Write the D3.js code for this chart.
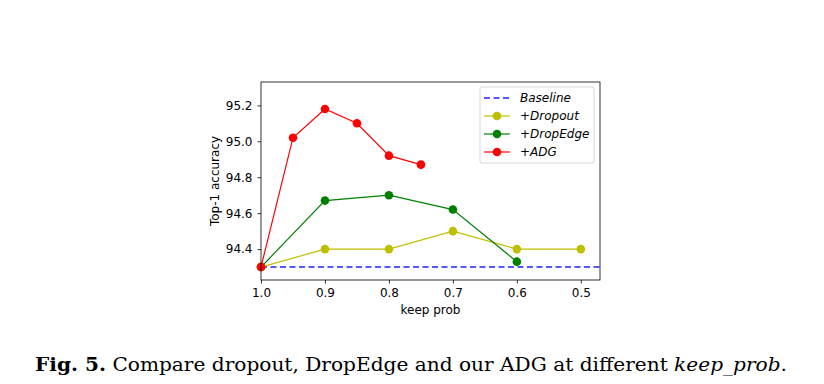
<!DOCTYPE html>
<html><head><meta charset="utf-8">
<script src="https://cdn.jsdelivr.net/npm/d3@7"></script>
<style>body{margin:0;background:#fff}svg{display:block}</style>
</head><body>
<svg id="c" width="824" height="384"></svg>
<script>
const xTicks = [1.0, 0.9, 0.8, 0.7, 0.6, 0.5];
const yTicks = [94.4, 94.6, 94.8, 95.0, 95.2];
const baselineValue = 94.3;
const dropoutX = [1.0, 0.9, 0.8, 0.7, 0.6, 0.5];
const dropoutY = [94.3, 94.4, 94.4, 94.5, 94.4, 94.4];
const dropEdgeX = [1.0, 0.9, 0.8, 0.7, 0.6];
const dropEdgeY = [94.3, 94.67, 94.70, 94.62, 94.33];
const adgX = [1.0, 0.95, 0.9, 0.85, 0.8, 0.75];
const adgY = [94.3, 95.02, 95.18, 95.10, 94.92, 94.87];
const legendLabels = ["Baseline", "+Dropout", "+DropEdge", "+ADG"];

const svg = d3.select("#c");
const L = 261, R = 600, T = 82, B = 280;
const x = d3.scaleLinear().domain([1.0, 0.47]).range([L, R]);
const y = d3.scaleLinear().domain([94.228, 95.33]).range([B, T]);
const font = "DejaVu Sans, sans-serif";

// baseline
svg.append("line").attr("x1", x(1.0)).attr("x2", R).attr("y1", y(baselineValue)).attr("y2", y(baselineValue))
  .attr("stroke", "#2222ff").attr("stroke-width", 1.6).attr("stroke-dasharray", "6,3.5");

const series = [
  {xs: dropoutX, ys: dropoutY, c: "#bfbf00"},
  {xs: dropEdgeX, ys: dropEdgeY, c: "#008000"},
  {xs: adgX, ys: adgY, c: "#ff0000"}
];
const line = d3.line().x(d => x(d[0])).y(d => y(d[1]));
series.forEach(s => {
  const pts = s.xs.map((v, i) => [v, s.ys[i]]);
  svg.append("path").attr("d", line(pts)).attr("fill", "none").attr("stroke", s.c).attr("stroke-width", 1.2);
  svg.selectAll(null).data(pts).enter().append("circle")
    .attr("cx", d => x(d[0])).attr("cy", d => y(d[1])).attr("r", 4.3).attr("fill", s.c);
});

// frame
svg.append("rect").attr("x", L).attr("y", T).attr("width", R - L).attr("height", B - T)
  .attr("fill", "none").attr("stroke", "#000").attr("stroke-width", 0.8);

// axes
const xa = svg.append("g").attr("transform", `translate(0,${B})`)
  .call(d3.axisBottom(x).tickValues(xTicks).tickFormat(d3.format(".1f")).tickSize(3.5).tickPadding(5));
const ya = svg.append("g").attr("transform", `translate(${L},0)`)
  .call(d3.axisLeft(y).tickValues(yTicks).tickFormat(d3.format(".1f")).tickSize(3.5).tickPadding(5));
[xa, ya].forEach(a => {
  a.select(".domain").remove();
  a.selectAll("line").attr("stroke", "#000").attr("stroke-width", 0.8);
  a.selectAll("text").attr("font-family", font).attr("font-size", 12).attr("fill", "#000");
});

svg.append("text").attr("x", (L + R) / 2).attr("y", 314).attr("text-anchor", "middle")
  .attr("font-family", font).attr("font-size", 12).text("keep prob");
svg.append("text").attr("transform", `translate(219,${(T + B) / 2}) rotate(-90)`).attr("text-anchor", "middle")
  .attr("font-family", font).attr("font-size", 12).text("Top-1 accuracy");

// legend
const lg = svg.append("g");
lg.append("rect").attr("x", 480).attr("y", 87).attr("width", 114).attr("height", 76).attr("rx", 2)
  .attr("fill", "#fff").attr("stroke", "#ccc").attr("stroke-width", 0.8);
const lcolors = ["#2222ff", "#bfbf00", "#008000", "#ff0000"];
legendLabels.forEach((t, i) => {
  const yy = 98 + i * 18;
  const ln = lg.append("line").attr("x1", 484).attr("x2", 510).attr("y1", yy).attr("y2", yy)
    .attr("stroke", lcolors[i]).attr("stroke-width", i === 0 ? 1.6 : 1.2);
  if (i === 0) ln.attr("stroke-dasharray", "6,3.5");
  else lg.append("circle").attr("cx", 497).attr("cy", yy).attr("r", 4.3).attr("fill", lcolors[i]);
  lg.append("text").attr("x", 520).attr("y", yy + 4).attr("font-family", font).attr("font-size", 12)
    .attr("font-style", "italic").text(t);
});

// caption
const cap = svg.append("text").attr("x", 35).attr("y", 371).attr("font-family", "DejaVu Serif, serif")
  .attr("font-size", 18).attr("fill", "#000")
  .attr("textLength", 752).attr("lengthAdjust", "spacingAndGlyphs");
cap.append("tspan").attr("font-weight", "bold").text("Fig. 5.");
cap.append("tspan").text(" Compare dropout, DropEdge and our ADG at different ");
cap.append("tspan").attr("font-style", "italic").text("keep_prob");
cap.append("tspan").text(".");
</script>
</body></html>
